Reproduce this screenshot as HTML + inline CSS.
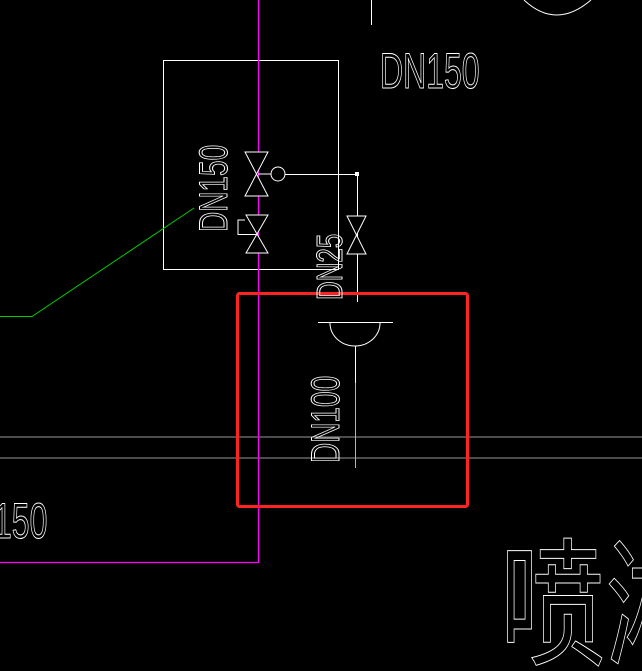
<!DOCTYPE html>
<html><head><style>
html,body{margin:0;padding:0;background:#000;width:642px;height:671px;overflow:hidden}
svg{display:block}
text{font-family:"Liberation Sans","Noto Sans CJK SC",sans-serif;fill:none;stroke:#fff;stroke-width:1}
</style></head><body>
<svg width="642" height="671" viewBox="0 0 642 671" xmlns="http://www.w3.org/2000/svg">
<rect width="642" height="671" fill="#000"/>
<line x1="0" y1="437" x2="642" y2="437" stroke="#999" stroke-width="1"/>
<line x1="0" y1="458" x2="642" y2="458" stroke="#999" stroke-width="1"/>
<line x1="371.5" y1="0" x2="371.5" y2="25" stroke="#fff"/>
<path d="M524,0 Q556,30 591,0" fill="none" stroke="#fff"/>
<rect x="163.5" y="60.5" width="175" height="209" fill="none" stroke="#fff"/>
<polyline points="258.5,0 258.5,562.5 0,562.5" fill="none" stroke="#f0f" stroke-width="1.2"/>
<polyline points="0,316.5 32,316.5 194,208" fill="none" stroke="#0c0" stroke-width="1"/>
<polygon points="245,152 268,152 245,196 268,196" fill="#000" stroke="#fff"/>
<line x1="258" y1="174" x2="271" y2="174" stroke="#fff"/>
<circle cx="278" cy="174" r="7" fill="none" stroke="#fff"/>
<line x1="285" y1="174.5" x2="357" y2="174.5" stroke="#fff"/>
<rect x="355" y="172" width="4" height="4" fill="#fff"/>
<line x1="357.5" y1="174" x2="357.5" y2="302" stroke="#fff"/>
<polygon points="246,215 268,215 246,253 268,253" fill="#000" stroke="#fff"/>
<polyline points="245,220 238,220 238,234.5 258,234.5" fill="none" stroke="#fff"/>
<polygon points="347,216 366,216 347,254 366,254" fill="#000" stroke="#fff"/>
<line x1="318" y1="322.5" x2="393" y2="322.5" stroke="#fff"/>
<path d="M330,323 A25,23 0 0 0 380,323" fill="none" stroke="#fff"/>
<line x1="355.5" y1="346" x2="355.5" y2="383" stroke="#fff"/>
<line x1="355.5" y1="383" x2="355.5" y2="468" stroke="#0ff"/>
<rect x="237.5" y="293.5" width="230" height="213" rx="2" fill="none" stroke="#f22" stroke-width="3"/>
<text x="0" y="0" font-size="40" transform="translate(227,232) rotate(-90) scale(0.7,1)">DN150</text>
<text x="0" y="0" font-size="36" transform="translate(342,300) rotate(-90) scale(0.72,1)">DN25</text>
<text x="0" y="0" font-size="40" transform="translate(339,463) rotate(-90) scale(0.7,1)">DN100</text>
<text x="0" y="0" font-size="50" transform="translate(380,88) scale(0.64,1)">DN150</text>
<text x="0" y="0" font-size="50" transform="translate(-6,538) scale(0.64,1)">150</text>
<text x="0" y="0" font-size="140" transform="translate(500,655) scale(0.75,1)" stroke-width="1.2">喷淋</text>
</svg>
</body></html>
